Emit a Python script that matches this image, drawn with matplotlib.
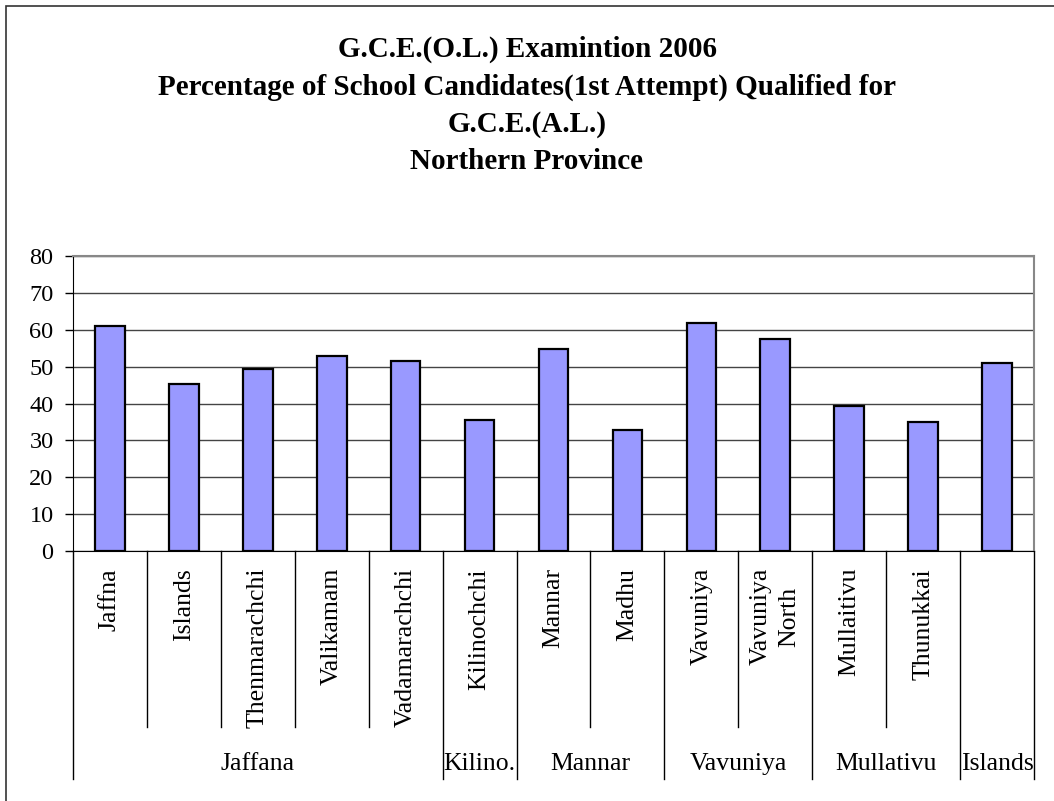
import matplotlib
matplotlib.use("Agg")
import matplotlib.pyplot as plt
import matplotlib.transforms as mtransforms
from matplotlib.patches import Rectangle

plt.rcParams['font.family'] = ['Liberation Serif', 'DejaVu Serif']

# data
divisions = ["Jaffna", "Islands", "Thenmarachchi", "Valikamam", "Vadamarachchi",
             "Kilinochchi", "Mannar", "Madhu", "Vavuniya", "Vavuniya\nNorth",
             "Mullaitivu", "Thunukkai", ""]
percent = [60.9, 45.2, 49.3, 53.0, 51.6, 35.4, 54.7, 32.9, 61.7, 57.4, 39.3, 35.0, 51.1]
districts = ["Jaffana", "Kilino.", "Mannar", "Vavuniya", "Mullativu", "Islands"]
district_size = [5, 1, 2, 2, 2, 1]

title = ("G.C.E.(O.L.) Examintion 2006\n"
         "Percentage of School Candidates(1st Attempt) Qualified for\n"
         "G.C.E.(A.L.)\n"
         "Northern Province")

W, H = 1054, 801
fig = plt.figure(figsize=(W / 100, H / 100), dpi=100)
ax = fig.add_axes([73 / W, 1 - 551 / H, (1034 - 73) / W, (551 - 256) / H])

x = list(range(len(percent)))
ax.bar(x, percent, width=0.4, color="#9999FF", edgecolor="black", linewidth=1.6, zorder=3)

ax.set_xlim(-0.5, len(percent) - 0.5)
ax.set_ylim(0, 80)
ax.set_yticks(range(0, 81, 10))
ax.tick_params(axis="y", labelsize=17.5, length=6, width=1, direction="out", pad=8)
ax.set_xticks([])
ax.yaxis.grid(True, color="#444444", linewidth=1)
ax.set_axisbelow(True)
for s in ["top", "right"]:
    ax.spines[s].set_color("#888888")
    ax.spines[s].set_linewidth(1.5)
ax.spines["left"].set_color("black")
ax.spines["bottom"].set_color("black")

# two-level category axis
trans = mtransforms.blended_transform_factory(ax.transData, ax.transAxes)
axh = 551 - 256
short_y = -(727 - 551) / axh
long_y = -(779 - 551) / axh
bounds = [-0.5]
for n in district_size:
    bounds.append(bounds[-1] + n)
for i in range(len(percent) + 1):
    xb = i - 0.5
    y2 = long_y if xb in bounds else short_y
    ax.plot([xb, xb], [0, y2], transform=trans, color="black", lw=1, clip_on=False)

for i, lab in enumerate(divisions):
    ax.text(i, -(568 - 551) / axh, lab, transform=trans, rotation=90, ha="center",
            va="top", fontsize=18.5, multialignment="center", linespacing=1.4)

for k, lab in enumerate(districts):
    c = (bounds[k] + bounds[k + 1]) / 2
    ax.text(c, -(764 - 551) / axh, lab, transform=trans, ha="center", va="center", fontsize=18.5)

fig.text(0.5, 1 - 36 / H, title, ha="center", va="top", fontsize=21,
         fontweight="bold", linespacing=1.48)

fig.patches.append(Rectangle((6 / W, -0.1), 1.2, 1 - 6 / H + 0.1, transform=fig.transFigure,
                             fill=False, edgecolor="#333333", linewidth=1.2))

fig.savefig("out.png", dpi=100)
